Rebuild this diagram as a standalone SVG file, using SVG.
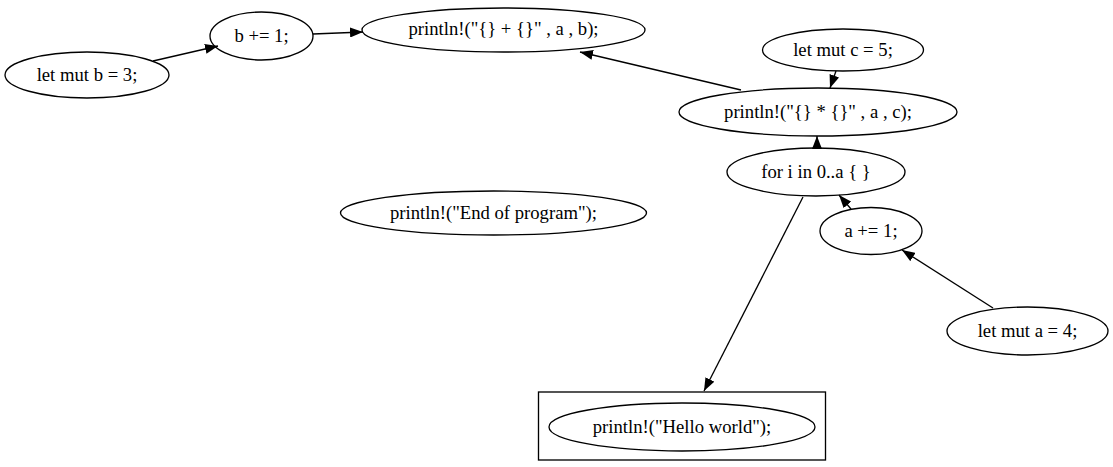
<svg xmlns="http://www.w3.org/2000/svg" width="1113" height="467" viewBox="0 0 1113 467">
<style>
.n ellipse{fill:none;stroke:#000;stroke-width:1.33}
.n text{font-family:"Liberation Serif","Times New Roman",serif;font-size:18.67px;text-anchor:middle;fill:#000}
.e line{stroke:#000;stroke-width:1.33;marker-end:url(#ah)}
</style>
<defs>
<marker id="ah" viewBox="0 0 13 10" refX="13" refY="5" markerWidth="13" markerHeight="10" markerUnits="userSpaceOnUse" orient="auto">
<path d="M0,0 L13,5 L0,10 Z" fill="#000"/>
</marker>
</defs>
<rect width="1113" height="467" fill="#fff"/>
<g id="cluster"><rect x="538.5" y="392" width="287" height="68" fill="none" stroke="#000" stroke-width="1.33"/></g>
<g id="n_b3" class="n"><ellipse cx="87" cy="75" rx="82" ry="23"/><text x="87" y="81">let mut b = 3;</text></g>
<g id="n_b1" class="n"><ellipse cx="261.5" cy="36" rx="51.5" ry="24"/><text x="261.5" y="42">b += 1;</text></g>
<g id="n_pplus" class="n"><ellipse cx="503.5" cy="30" rx="141.5" ry="22"/><text x="503.5" y="35">println!("{} + {}" , a , b);</text></g>
<g id="n_c5" class="n"><ellipse cx="843" cy="50" rx="80.5" ry="21"/><text x="843" y="56">let mut c = 5;</text></g>
<g id="n_pmul" class="n"><ellipse cx="818" cy="112" rx="139" ry="24"/><text x="818" y="118">println!("{} * {}" , a , c);</text></g>
<g id="n_for" class="n"><ellipse cx="816" cy="172" rx="89" ry="24"/><text x="816" y="178">for i in 0..a { }</text></g>
<g id="n_a1" class="n"><ellipse cx="871" cy="231" rx="51" ry="23.5"/><text x="871" y="237">a += 1;</text></g>
<g id="n_a4" class="n"><ellipse cx="1027.5" cy="331" rx="80.5" ry="24"/><text x="1027.5" y="337">let mut a = 4;</text></g>
<g id="n_end" class="n"><ellipse cx="493.5" cy="213" rx="153" ry="22"/><text x="493.5" y="219">println!("End of program");</text></g>
<g id="n_hello" class="n"><ellipse cx="682" cy="427" rx="133" ry="24"/><text x="682" y="433">println!("Hello world");</text></g>
<g id="edges" class="e">
<line x1="153" y1="61" x2="218" y2="46"/>
<line x1="313" y1="34" x2="363" y2="32"/>
<line x1="741" y1="90" x2="580" y2="52"/>
<line x1="836" y1="71" x2="830" y2="88"/>
<line x1="817" y1="149" x2="817" y2="136"/>
<line x1="851" y1="209" x2="839" y2="195"/>
<line x1="993" y1="308" x2="902" y2="250"/>
<line x1="803" y1="197" x2="704" y2="391"/>
</g>
</svg>
